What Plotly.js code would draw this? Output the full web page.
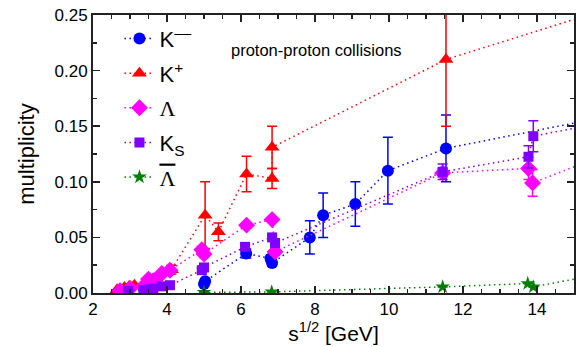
<!DOCTYPE html>
<html>
<head>
<meta charset="utf-8">
<script src="https://cdn.plot.ly/plotly-3.0.1.min.js"></script>
<style>html,body{margin:0;padding:0;background:#fff;}#chart{width:581px;height:347px;}</style>
</head>
<body>
<div id="chart"></div>
<script>
// K- (blue circles)
var kmX   = [5.0, 5.03, 6.14, 6.8, 6.84, 7.86, 8.22, 9.09, 9.97, 11.54, 17.3];
var kmY   = [0.008, 0.0105, 0.0355, 0.031, 0.027, 0.050, 0.070, 0.080, 0.110, 0.130, 0.168];
var kmErr = [0.002, 0.002, 0.004, 0.003, 0.003, 0.015, 0.020, 0.020, 0.030, 0.030, 0];
// K+ (red triangles)
var kpX   = [2.65, 2.85, 2.98, 3.12, 3.55, 4.12, 5.03, 5.39, 6.15, 6.84, 6.84, 11.54, 17.3];
var kpY   = [0.003, 0.005, 0.006, 0.007, 0.008, 0.021, 0.070, 0.055, 0.107, 0.103, 0.131, 0.210, 0.270];
var kpErr = [0, 0, 0, 0, 0, 0.004, 0.030, 0.008, 0.016, 0.009, 0.019, 0.060, 0];
// Lambda (magenta diamonds)
var laX   = [2.73, 3.0, 3.36, 3.5, 3.63, 3.86, 4.08, 4.94, 5.0, 6.15, 6.84, 6.92, 11.45, 13.77, 13.88, 17.3];
var laY   = [0.002, 0.004, 0.006, 0.0125, 0.011, 0.0175, 0.0205, 0.039, 0.035, 0.061, 0.066, 0.037, 0.108, 0.112, 0.099, 0.143];
var laErr = [0, 0, 0, 0, 0, 0.002, 0.002, 0.003, 0.003, 0.002, 0.002, 0.003, 0.004, 0.010, 0.012, 0];
// K_S (violet squares)
var ksX   = [2.95, 3.36, 3.52, 3.63, 3.86, 4.08, 4.94, 5.0, 6.11, 6.84, 6.92, 11.45, 13.77, 13.9, 17.3];
var ksY   = [0.002, 0.0025, 0.003, 0.004, 0.006, 0.007, 0.0205, 0.023, 0.0415, 0.050, 0.045, 0.109, 0.1225, 0.141, 0.163];
var ksErr = [0, 0, 0, 0, 0, 0, 0.002, 0.002, 0.002, 0.002, 0.002, 0.007, 0.010, 0.014, 0];
// anti-Lambda (green stars)
var alX   = [5.0, 6.83, 11.45, 13.75, 13.9, 17.3];
var alY   = [0.0005, 0.001, 0.0055, 0.0085, 0.0055, 0.027];
var alErr = [0, 0, 0, 0, 0, 0];

var names = ['K<sup>\u2013\u2013</sup>', 'K<sup>+</sup>',
  '<span style="font-family:\'Liberation Serif\'">\u039B</span>',
  'K<sub>S</sub>',
  '<span style="font-family:\'Liberation Serif\';text-decoration:overline">\u039B</span>'];

function tr(x, y, e, name, color, symbol, size, i) {
  return {
    x: x, y: y, name: name, type: 'scatter', mode: 'lines+markers',
    legendgroup: 'g' + i,
    line: {color: color, width: 1.5, dash: '1.5px,3.5px'},
    marker: {color: color, symbol: symbol, size: size},
    error_y: {type: 'data', array: e, visible: true, color: color, thickness: 1.5, width: 5},
    cliponaxis: true
  };
}

var data = [
  tr(kmX, kmY, kmErr, names[0], '#0000ff', 'circle', 12, 0),
  tr(kpX, kpY, kpErr, names[1], '#ff0000', 'triangle-up', 13, 1),
  tr(laX, laY, laErr, names[2], '#ff00ff', 'diamond', 13, 2),
  tr(ksX, ksY, ksErr, names[3], '#8000ff', 'square', 10, 3),
  tr(alX, alY, alErr, names[4], '#008000', 'star', 11, 4)
];

var axisCommon = {
  showline: true, mirror: 'allticks', linecolor: '#222', linewidth: 2,
  ticks: 'inside', ticklen: 7, tickwidth: 1.5, tickcolor: '#222',
  showgrid: false, zeroline: false,
  tickfont: {family: 'Liberation Sans, Arial, sans-serif', size: 17, color: '#000'}
};

var layout = {
  width: 581, height: 347,
  margin: {l: 93, r: 7, t: 15, b: 54},
  paper_bgcolor: '#fff', plot_bgcolor: '#fff',
  font: {family: 'Liberation Sans, Arial, sans-serif', color: '#000'},
  xaxis: Object.assign({}, axisCommon, {
    range: [2, 15], dtick: 2, tick0: 2,
    minor: {dtick: 0.5, ticks: 'inside', ticklen: 4, tickwidth: 1.5, tickcolor: '#222'},
    title: {text: 's<sup>1/2</sup> [GeV]', font: {size: 21}, standoff: 4}
  }),
  yaxis: Object.assign({}, axisCommon, {
    range: [0, 0.25], dtick: 0.05, tickformat: '.2f',
    minor: {dtick: 0.025, ticks: 'inside', ticklen: 4, tickwidth: 1.5, tickcolor: '#222'},
    title: {text: 'multiplicity', font: {size: 22}, standoff: 14}
  }),
  showlegend: true,
  legend: {x: 0.055, y: 0.99, xanchor: 'left', yanchor: 'top', bgcolor: 'rgba(0,0,0,0)',
    font: {size: 22}, tracegroupgap: 3},
  annotations: [{
    text: 'proton-proton collisions', xref: 'paper', yref: 'paper', x: 0.465, y: 0.915,
    showarrow: false, font: {size: 16.5}
  }]
};

Plotly.newPlot('chart', data, layout, {displayModeBar: false, staticPlot: true});
</script>
</body>
</html>
